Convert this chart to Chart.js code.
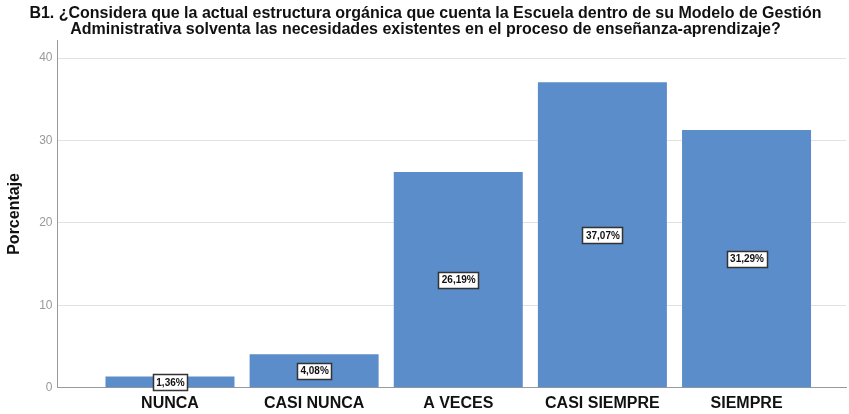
<!DOCTYPE html>
<html>
<head>
<meta charset="utf-8">
<script src="https://cdn.jsdelivr.net/npm/chart.js@4/dist/chart.umd.min.js"></script>
<style>
  html, body { margin: 0; padding: 0; background: #fff; }
  #wrap { position: relative; width: 849px; height: 414px; }
</style>
</head>
<body>
<div id="wrap"><canvas id="chart"></canvas></div>
<script>
const categories = ["NUNCA", "CASI NUNCA", "A VECES", "CASI SIEMPRE", "SIEMPRE"];
const percentages = [1.36, 4.08, 26.19, 37.07, 31.29];
const yTicks = [0, 10, 20, 30, 40];
const titleLines = [
  "B1. ¿Considera que la actual estructura orgánica que cuenta la Escuela dentro de su Modelo de Gestión",
  "Administrativa solventa las necesidades existentes en el proceso de enseñanza-aprendizaje?"
];

// etiquetas con caja blanca en el centro de cada barra
const boxLabels = {
  id: "boxLabels",
  afterDatasetsDraw(chart) {
    const ctx = chart.ctx;
    const meta = chart.getDatasetMeta(0);
    ctx.save();
    ctx.font = "bold 10px 'Liberation Sans', Arial, sans-serif";
    ctx.textAlign = "center";
    ctx.textBaseline = "middle";
    meta.data.forEach((bar, i) => {
      const txt = percentages[i].toFixed(2).replace(".", ",") + "%";
      const cx = bar.x;
      const cy = (bar.y + bar.base) / 2;
      const w = Math.round(ctx.measureText(txt).width + 6);
      const h = 16;
      const x0 = Math.round(cx - w / 2), y0 = Math.round(cy - h / 2);
      ctx.fillStyle = "#fff";
      ctx.fillRect(x0, y0, w, h);
      ctx.strokeStyle = "#333";
      ctx.lineWidth = 1.5;
      ctx.strokeRect(x0 + 0.5, y0 + 0.5, w, h);
      ctx.fillStyle = "#111";
      ctx.fillText(txt, cx + 0.5, cy + 1);
    });
    ctx.restore();
  }
};

new Chart(document.getElementById("chart"), {
  type: "bar",
  data: {
    datasets: [{
      data: percentages.map((v, i) => ({ x: i, y: v })),
      backgroundColor: "#5a8dca",
      borderWidth: 0,
      categoryPercentage: 1,
      barPercentage: 0.895
    }]
  },
  options: {
    responsive: true,
    maintainAspectRatio: false,
    animation: false,
    layout: { padding: { left: 5, right: 3, top: 0, bottom: -5 } },
    plugins: {
      legend: { display: false },
      tooltip: { enabled: false },
      title: {
        display: true,
        text: titleLines,
        color: "#111",
        font: { family: "'Liberation Sans', Arial, sans-serif", size: 16, weight: "bold", lineHeight: 1.0 },
        padding: { top: 6, bottom: 2 }
      }
    },
    scales: {
      x: {
        type: "linear",
        offset: false,
        min: -0.78,
        max: 4.69,
        grid: { display: false, drawTicks: false },
        border: { color: "#999", width: 1 },
        ticks: {
          stepSize: 1,
          includeBounds: false,
          autoSkip: false,
          maxRotation: 0,
          padding: 6,
          color: "#111",
          font: { family: "'Liberation Sans', Arial, sans-serif", size: 16, weight: "bold" },
          callback: v => (Number.isInteger(v) && categories[v]) ? categories[v] : ""
        }
      },
      y: {
        min: 0,
        max: 42.2,
        afterBuildTicks: axis => { axis.ticks = yTicks.map(v => ({ value: v })); },
        grid: { color: "#e2e2e2", drawTicks: false },
        border: { color: "#999", width: 1 },
        ticks: {
          padding: 5,
          color: "#999",
          font: { family: "'Liberation Sans', Arial, sans-serif", size: 12 }
        },
        title: {
          display: true,
          text: "Porcentaje",
          color: "#111",
          font: { family: "'Liberation Sans', Arial, sans-serif", size: 16, weight: "bold" },
          padding: { top: 0, bottom: 10 }
        }
      }
    }
  },
  plugins: [boxLabels]
});
</script>
</body>
</html>
